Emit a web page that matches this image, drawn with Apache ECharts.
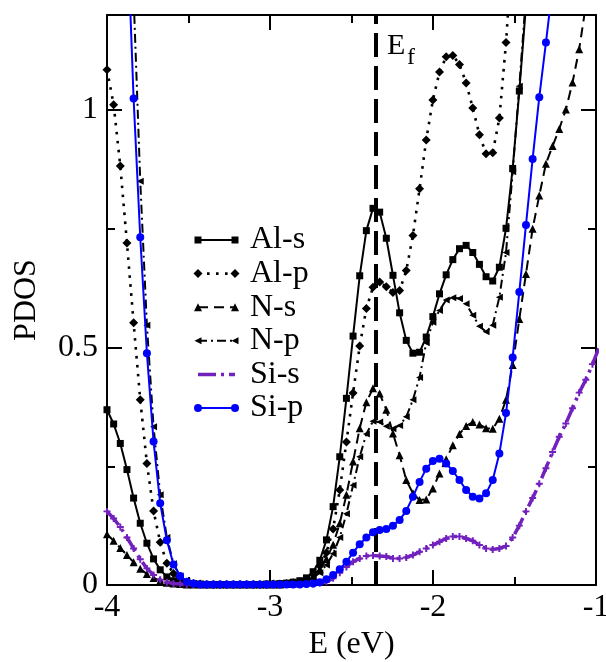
<!DOCTYPE html>
<html>
<head>
<meta charset="utf-8">
<script src="https://cdn.jsdelivr.net/npm/echarts@6/dist/echarts.min.js"></script>
<style>
  html, body { margin: 0; padding: 0; background: #fff; }
  #chart { width: 606px; height: 662px; }
</style>
</head>
<body>
<div id="chart"></div>
<script>
// Energy grid (eV), one point per 0.003 Ry
const energy = [
  -4.0000, -3.9592, -3.9184, -3.8776, -3.8368, -3.7960, -3.7552, -3.7144, -3.6736, -3.6328,
  -3.5920, -3.5512, -3.5104, -3.4696, -3.4288, -3.3880, -3.3472, -3.3064, -3.2656, -3.2248,
  -3.1840, -3.1432, -3.1024, -3.0616, -3.0208, -2.9800, -2.9392, -2.8984, -2.8576, -2.8168,
  -2.7760, -2.7352, -2.6944, -2.6536, -2.6128, -2.5720, -2.5312, -2.4904, -2.4496, -2.4088,
  -2.3680, -2.3272, -2.2864, -2.2456, -2.2048, -2.1640, -2.1232, -2.0824, -2.0416, -2.0008,
  -1.9600, -1.9192, -1.8784, -1.8376, -1.7968, -1.7560, -1.7152, -1.6744, -1.6336, -1.5928,
  -1.5520, -1.5112, -1.4704, -1.4296, -1.3888, -1.3480, -1.3072, -1.2664, -1.2256, -1.1848,
  -1.1440, -1.1032, -1.0624, -1.0216, -0.9808
];

// Projected DOS per orbital (null = beyond the plotted range)
const alS = [
  0.369, 0.339, 0.298, 0.243, 0.183, 0.130, 0.088, 0.055, 0.032, 0.017,
  0.009, 0.005, 0.003, 0.002, 0.002, 0.001, 0.001, 0.001, 0.001, 0.001,
  0.001, 0.001, 0.001, 0.001, 0.002, 0.002, 0.003, 0.004, 0.006, 0.009,
  0.015, 0.028, 0.052, 0.095, 0.165, 0.270, 0.393, 0.524, 0.651, 0.746,
  0.793, 0.785, 0.730, 0.652, 0.573, 0.515, 0.488, 0.490, 0.522, 0.565,
  0.613, 0.653, 0.685, 0.708, 0.715, 0.700, 0.675, 0.649, 0.640, 0.669,
  0.751, 0.877, 1.040, 1.220, null, null, null, null, null, null,
  null, null, null, null, null
];
const alP = [
  1.085, 1.011, 0.882, 0.720, 0.552, 0.390, 0.256, 0.156, 0.090, 0.046,
  0.024, 0.012, 0.006, 0.003, 0.002, 0.001, 0.001, 0.001, 0.001, 0.001,
  0.001, 0.001, 0.001, 0.001, 0.001, 0.002, 0.002, 0.003, 0.005, 0.007,
  0.012, 0.022, 0.040, 0.068, 0.118, 0.200, 0.301, 0.404, 0.503, 0.582,
  0.627, 0.638, 0.628, 0.616, 0.620, 0.662, 0.736, 0.834, 0.937, 1.021,
  1.080, 1.112, 1.115, 1.096, 1.057, 1.004, 0.948, 0.908, 0.910, 0.983,
  1.142, 1.350, null, null, null, null, null, null, null, null,
  null, null, null, null, null
];
const nS = [
  0.107, 0.093, 0.078, 0.063, 0.048, 0.034, 0.023, 0.015, 0.009, 0.005,
  0.003, 0.002, 0.001, 0.001, 0.001, 0.001, 0.001, 0.001, 0.001, 0.001,
  0.001, 0.001, 0.001, 0.001, 0.001, 0.001, 0.001, 0.002, 0.003, 0.005,
  0.010, 0.019, 0.033, 0.055, 0.085, 0.130, 0.190, 0.260, 0.330, 0.385,
  0.414, 0.403, 0.369, 0.319, 0.273, 0.221, 0.193, 0.179, 0.180, 0.203,
  0.235, 0.265, 0.294, 0.318, 0.335, 0.343, 0.338, 0.330, 0.329, 0.350,
  0.390, 0.463, 0.560, 0.655, 0.750, 0.820, 0.887, 0.924, 0.960, 1.001,
  1.058, 1.128, 1.220, null, null
];
const nP = [
  null, null, null, 1.600, 1.240, 0.850, 0.547, 0.333, 0.190, 0.100,
  0.045, 0.019, 0.008, 0.003, 0.002, 0.001, 0.001, 0.001, 0.001, 0.001,
  0.001, 0.001, 0.001, 0.001, 0.001, 0.001, 0.002, 0.002, 0.003, 0.005,
  0.008, 0.015, 0.026, 0.042, 0.066, 0.100, 0.150, 0.210, 0.270, 0.318,
  0.345, 0.343, 0.334, 0.329, 0.336, 0.354, 0.390, 0.437, 0.510, 0.553,
  0.578, 0.600, 0.605, 0.603, 0.592, 0.568, 0.545, 0.533, 0.547, 0.606,
  0.700, 0.870, 1.050, 1.240, null, null, null, null, null, null,
  null, null, null, null, null
];
const siS = [
  0.155, 0.140, 0.122, 0.100, 0.077, 0.054, 0.035, 0.021, 0.011, 0.006,
  0.003, 0.002, 0.001, 0.001, 0.001, 0.001, 0.001, 0.001, 0.001, 0.001,
  0.001, 0.001, 0.001, 0.001, 0.001, 0.001, 0.001, 0.001, 0.001, 0.001,
  0.001, 0.002, 0.004, 0.007, 0.014, 0.026, 0.038, 0.049, 0.056, 0.061,
  0.062, 0.061, 0.060, 0.056, 0.056, 0.058, 0.063, 0.070, 0.077, 0.084,
  0.091, 0.098, 0.102, 0.102, 0.098, 0.093, 0.084, 0.077, 0.075, 0.077,
  0.082, 0.100, 0.125, 0.155, 0.183, 0.213, 0.246, 0.280, 0.312, 0.340,
  0.372, 0.405, 0.432, 0.465, 0.500
];
const siP = [
  null, null, null, 1.400, 1.024, 0.732, 0.488, 0.302, 0.172, 0.094,
  0.043, 0.019, 0.007, 0.003, 0.001, 0.001, 0.001, 0.001, 0.001, 0.001,
  0.001, 0.001, 0.001, 0.001, 0.001, 0.001, 0.001, 0.001, 0.001, 0.001,
  0.002, 0.003, 0.006, 0.012, 0.021, 0.033, 0.049, 0.068, 0.086, 0.100,
  0.111, 0.116, 0.118, 0.125, 0.137, 0.156, 0.186, 0.217, 0.245, 0.261,
  0.266, 0.256, 0.240, 0.221, 0.200, 0.186, 0.182, 0.193, 0.221, 0.277,
  0.362, 0.479, 0.617, 0.758, 0.897, 1.027, 1.142, 1.260, null, null,
  null, null, null, null, null
];

const seriesNames = ['Al-s', 'Al-p', 'N-s', 'N-p', 'Si-s', 'Si-p'];
const xTicks = [-4, -3, -2, -1];
const yMajorTicks = [0, 0.5, 1];
const yMinorTicks = [0.25, 0.75];
const fermiLevel = -2.35;

const FONT = '"Liberation Serif", "Times New Roman", serif';
const INK = '#000000';
const PURPLE = '#7221bc';
const BLUE = '#0000ff';

// Glyph shapes used for markers (filled paths, drawn in a 10x10 box)
const PLUS = 'path://M3.6,0H6.4V3.6H10V6.4H6.4V10H3.6V6.4H0V3.6H3.6Z';
const TRI_LEFT = 'path://M0,5L10,0L10,10Z';

const looks = [
  { color: INK,    width: 2,   dash: 'solid',      symbol: 'rect',     size: 7, mark: 'rect' },
  { color: INK,    width: 2.6, dash: [2.6, 6.4],   symbol: 'diamond',  size: 9, mark: 'diamond' },
  { color: INK,    width: 2,   dash: [10, 6],      symbol: 'triangle', size: 8, mark: 'triUp' },
  { color: INK,    width: 2,   dash: [9, 4, 2, 4], symbol: TRI_LEFT,   size: 7, mark: 'triLeft' },
  { color: PURPLE, width: 3.5, dash: [18, 5, 3, 5], symbol: PLUS,      size: 7, mark: 'plus' },
  { color: BLUE,   width: 2,   dash: 'solid',      symbol: 'circle',   size: 8, mark: 'circle' }
];
const values = [alS, alP, nS, nP, siS, siP];

const chart = echarts.init(document.getElementById('chart'), null, { renderer: 'canvas' });

const tickLine = { color: INK, width: 2 };
const labelStyle = { fontFamily: FONT, fontSize: 32, color: INK };

function xAxisDef(pos, withLabels) {
  return {
    type: 'value', position: pos, min: -4, max: -1, interval: 1,
    axisLine: { show: true, onZero: false, lineStyle: { color: INK, width: 2 } },
    axisTick: { show: true, inside: true, length: 15, lineStyle: tickLine },
    minorTick: { show: true, splitNumber: 2, length: 8, lineStyle: tickLine },
    splitLine: { show: false }, minorSplitLine: { show: false },
    axisLabel: withLabels
      ? Object.assign({ show: true, margin: 7, customValues: xTicks }, labelStyle)
      : { show: false },
    name: withLabels ? 'E (eV)' : '',
    nameLocation: 'middle', nameGap: 44,
    nameTextStyle: { fontFamily: FONT, fontSize: 32, color: INK }
  };
}
function yAxisDef(pos, ticks, len, line, labels) {
  return {
    type: 'value', position: pos, min: 0, max: 1.2, interval: 0.25,
    axisLine: { show: line, onZero: false, lineStyle: { color: INK, width: 2 } },
    axisTick: { show: true, inside: true, length: len, customValues: ticks, lineStyle: tickLine },
    splitLine: { show: false },
    axisLabel: labels
      ? Object.assign({ show: true, margin: 9, customValues: yMajorTicks }, labelStyle)
      : { show: false },
    name: labels ? 'PDOS' : '',
    nameLocation: 'middle', nameGap: 64, nameRotate: 90,
    nameTextStyle: { fontFamily: FONT, fontSize: 32, color: INK }
  };
}

const series = values.map((arr, i) => {
  const lk = looks[i];
  return {
    name: seriesNames[i],
    type: 'line',
    xAxisIndex: 0, yAxisIndex: 0,
    data: energy.map((e, j) => [e, arr[j]]),
    showSymbol: true,
    symbol: lk.symbol,
    symbolSize: lk.size,
    itemStyle: { color: lk.color, borderWidth: 0 },
    lineStyle: { color: lk.color, width: lk.width, type: lk.dash, cap: 'butt' },
    connectNulls: false,
    clip: true,
    silent: true,
    animation: false,
    z: 2 + i
  };
});

// Fermi level marker
series.push({
  name: 'Ef', type: 'line', xAxisIndex: 0, yAxisIndex: 0,
  data: [], silent: true, animation: false, z: 20,
  markLine: {
    silent: true, symbol: 'none', animation: false,
    label: { show: false },
    lineStyle: { color: INK, width: 4, type: [24, 9] },
    data: [{ xAxis: fermiLevel }]
  }
});

chart.setOption({
  backgroundColor: '#ffffff',
  animation: false,
  grid: { left: 107, right: 10, top: 15, bottom: 77, outerBoundsMode: 'none' },
  xAxis: [xAxisDef('bottom', true), xAxisDef('top', false)],
  yAxis: [
    yAxisDef('left', yMajorTicks, 15, true, true),
    yAxisDef('left', yMinorTicks, 8, false, false),
    yAxisDef('right', yMajorTicks, 15, true, false),
    yAxisDef('right', yMinorTicks, 8, false, false)
  ],
  series: series
});

// Legend box with a sample line capped by two markers per entry
function markerShape(kind, cx, cy, s, color) {
  const h = s / 2;
  const st = { fill: color };
  switch (kind) {
    case 'rect':
      return { type: 'rect', shape: { x: cx - h, y: cy - h, width: s, height: s }, style: st };
    case 'diamond':
      return { type: 'polygon', shape: { points: [[cx, cy - h], [cx + h, cy], [cx, cy + h], [cx - h, cy]] }, style: st };
    case 'triUp':
      return { type: 'polygon', shape: { points: [[cx, cy - h], [cx + h, cy + h], [cx - h, cy + h]] }, style: st };
    case 'triLeft':
      return { type: 'polygon', shape: { points: [[cx - h, cy], [cx + h, cy - h], [cx + h, cy + h]] }, style: st };
    case 'plus':
      return { type: 'group', children: [
        { type: 'rect', shape: { x: cx - h, y: cy - 1.4, width: s, height: 2.8 }, style: st },
        { type: 'rect', shape: { x: cx - 1.4, y: cy - h, width: 2.8, height: s }, style: st }
      ] };
    default:
      return { type: 'circle', shape: { cx: cx, cy: cy, r: h }, style: st };
  }
}

const legendItems = [{
  type: 'rect', shape: { x: 187, y: 212, width: 131, height: 220 },
  style: { fill: '#ffffff' }, z: 30
}];
const rowTop = 240, rowStep = 33.6, lineX0 = 198, lineX1 = 235, textX = 250;
seriesNames.forEach((nm, i) => {
  const lk = looks[i];
  const y = rowTop + i * rowStep;
  legendItems.push({
    type: 'line', z: 31,
    shape: { x1: lineX0, y1: y, x2: lineX1, y2: y },
    style: { stroke: lk.color, lineWidth: lk.width, lineDash: lk.dash === 'solid' ? null : lk.dash }
  });
  const a = markerShape(lk.mark, lineX0, y, lk.size, lk.color);
  const b = markerShape(lk.mark, lineX1, y, lk.size, lk.color);
  a.z = 32; b.z = 32;
  legendItems.push(a, b);
  legendItems.push({
    type: 'text', z: 32, x: textX, y: y,
    style: { text: nm, fontFamily: FONT, fontSize: 32, fill: INK, verticalAlign: 'middle', align: 'left' }
  });
});

// Fermi level caption next to the dashed line: E with subscript f
const ef = chart.convertToPixel({ xAxisIndex: 0, yAxisIndex: 0 }, [fermiLevel, 1.2]);
legendItems.push({
  type: 'text', z: 32, x: ef[0] + 11, y: ef[1] + 31,
  style: { text: 'E', fontFamily: FONT, fontSize: 30, fill: INK, verticalAlign: 'middle', align: 'left' }
});
legendItems.push({
  type: 'text', z: 32, x: ef[0] + 31, y: ef[1] + 43,
  style: { text: 'f', fontFamily: FONT, fontSize: 24, fill: INK, verticalAlign: 'middle', align: 'left' }
});

chart.setOption({ graphic: { elements: legendItems } });
</script>
</body>
</html>
